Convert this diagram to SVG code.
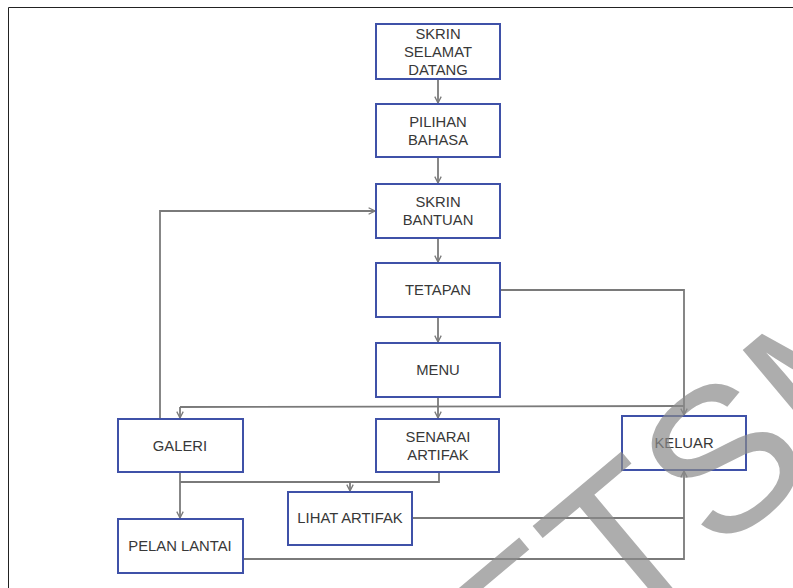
<svg xmlns="http://www.w3.org/2000/svg" width="793" height="588" viewBox="0 0 793 588">
<defs>
<style>
.box{fill:#ffffff;stroke:#3f51a8;stroke-width:2}
.lbl{font-family:"Liberation Sans",Arial,sans-serif;font-size:14.8px;fill:#383838;text-anchor:middle;dominant-baseline:central}
.con{fill:none;stroke:#7a7a7a;stroke-width:1.8}
.wm{font-family:"Liberation Sans",Arial,sans-serif;font-size:205px;fill:#8a8a8a;fill-opacity:0.7}
</style>
<marker id="arr" viewBox="0 0 10 10" refX="9" refY="5" markerWidth="8" markerHeight="8" markerUnits="userSpaceOnUse" orient="auto">
<path d="M1,1 L9,5 L1,9" fill="none" stroke="#7a7a7a" stroke-width="1.6"/>
</marker>
</defs>
<rect x="0" y="0" width="793" height="588" fill="#ffffff"/>
<path d="M8.5,600 L8.5,7.5 L800,7.5" fill="none" stroke="#222" stroke-width="1"/>
<g id="connectors">
<path class="con" d="M438,79 L438,103" marker-end="url(#arr)"/>
<path class="con" d="M438,157 L438,183" marker-end="url(#arr)"/>
<path class="con" d="M438,238 L438,262" marker-end="url(#arr)"/>
<path class="con" d="M438,317 L438,342" marker-end="url(#arr)"/>
<path class="con" d="M438,397 L438,418" marker-end="url(#arr)"/>
<path class="con" d="M180,407 L684,406"/>
<path class="con" d="M180,407 L180,418" marker-end="url(#arr)"/>
<path class="con" d="M500,290 L684,290 L684,415" marker-end="url(#arr)"/>
<path class="con" d="M160,419 L160,211 L375,211" marker-end="url(#arr)"/>
<path class="con" d="M439,472 L439,482 L180,482"/>
<path class="con" d="M180,472 L180,518" marker-end="url(#arr)"/>
<path class="con" d="M350,482 L350,491" marker-end="url(#arr)"/>
<path class="con" d="M412,518 L684,518"/>
<path class="con" d="M243,559 L684,559 L684,471" marker-end="url(#arr)"/>
</g>
<g id="n-skrin-selamat"><rect class="box" x="376" y="24" width="124" height="55"/><text class="lbl" x="438" y="34">SKRIN</text><text class="lbl" x="438" y="52">SELAMAT</text><text class="lbl" x="438" y="70">DATANG</text></g>
<g id="n-pilihan"><rect class="box" x="376" y="104" width="124" height="53"/><text class="lbl" x="438" y="122">PILIHAN</text><text class="lbl" x="438" y="140">BAHASA</text></g>
<g id="n-bantuan"><rect class="box" x="376" y="184" width="124" height="54"/><text class="lbl" x="438" y="202">SKRIN</text><text class="lbl" x="438" y="220">BANTUAN</text></g>
<g id="n-tetapan"><rect class="box" x="376" y="263" width="124" height="54"/><text class="lbl" x="438" y="290">TETAPAN</text></g>
<g id="n-menu"><rect class="box" x="376" y="343" width="124" height="54"/><text class="lbl" x="438" y="370">MENU</text></g>
<g id="n-senarai"><rect class="box" x="376" y="419" width="123" height="53"/><text class="lbl" x="438" y="437">SENARAI</text><text class="lbl" x="438" y="455">ARTIFAK</text></g>
<g id="n-galeri"><rect class="box" x="118" y="419" width="125" height="53"/><text class="lbl" x="180" y="446">GALERI</text></g>
<g id="n-keluar"><rect class="box" x="622" y="416" width="124" height="54"/><text class="lbl" x="684" y="443">KELUAR</text></g>
<g id="n-lihat"><rect class="box" x="288" y="492" width="124" height="53"/><text class="lbl" x="350" y="518">LIHAT ARTIFAK</text></g>
<g id="n-pelan"><rect class="box" x="118" y="519" width="125" height="54"/><text class="lbl" x="180" y="546">PELAN LANTAI</text></g>
<text class="wm" transform="translate(515,725) rotate(-40)">ETSM</text>
</svg>
